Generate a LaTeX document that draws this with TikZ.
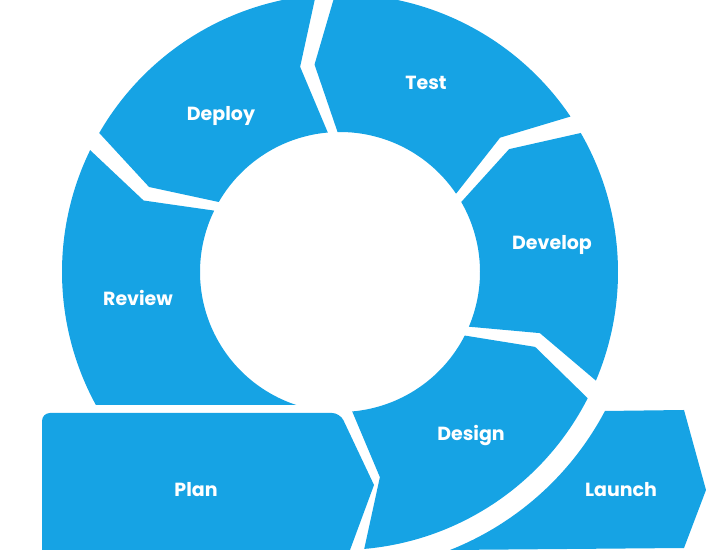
\documentclass[tikz,border=0pt]{standalone}
\usepackage{fontspec}
\setmainfont{Poppins}
\usetikzlibrary{calc}
\definecolor{cycleblue}{HTML}{16A3E4}
\tikzset{seg/.style={fill=cycleblue}, lbl/.style={text=white,font=\fontsize{19}{22}\selectfont\bfseries}}
\def\rO{278pt}\def\rI{140pt}\def\rM{209pt}\def\dl{6}
\newcommand\ringseg[2]{\fill[seg] ($(c)+(#1:\rO)$) arc[start angle=#1,end angle=#2,radius=\rO]
  -- ($(c)+(#2+\dl:\rM)$) -- ($(c)+(#2:\rI)$) arc[start angle=#2,end angle=#1,radius=\rI]
  -- ($(c)+(#1+\dl:\rM)$) -- cycle;}
\begin{document}
\begin{tikzpicture}[x=1pt,y=1pt]
  \useasboundingbox (0,0) rectangle (706,553);
  \coordinate (c) at (340,281);
  % ring
  \ringseg{-85}{-27}
  \ringseg{-23}{30}
  \ringseg{34}{91}
  \ringseg{95}{150}
  \begin{scope}
    \clip (0,148) rectangle (706,553);
    \fill[seg] ($(c)+(154:\rO)$) arc[start angle=154,end angle=255,radius=\rO]
      -- ($(c)+(255:\rI)$) arc[start angle=255,end angle=154,radius=\rI]
      -- ($(c)+(154+\dl:\rM)$) -- cycle;
  \end{scope}
  % arrows
  \fill[seg,rounded corners=8pt] (42,3) -- (42,140) -- (340,140) [sharp corners] -- (374,68) -- (350,3) -- cycle;
  \fill[seg] (450,3) arc[start angle=-68.4,end angle=-27.8,radius=300pt] -- (684,143) -- (706,63) -- (684,5) -- cycle;
  % labels
  \node[lbl] (test) at (426,470) {Test};
  \node[lbl] (deploy) at (221,437) {Deploy};
  \node[lbl] (develop) at (552,308) {Develop};
  \node[lbl] (review) at (138,255) {Review};
  \node[lbl] (design) at (471,117) {Design};
  \node[lbl] (plan) at (196,63) {Plan};
  \node[lbl] (launch) at (621,63) {Launch};
\end{tikzpicture}
\end{document}
